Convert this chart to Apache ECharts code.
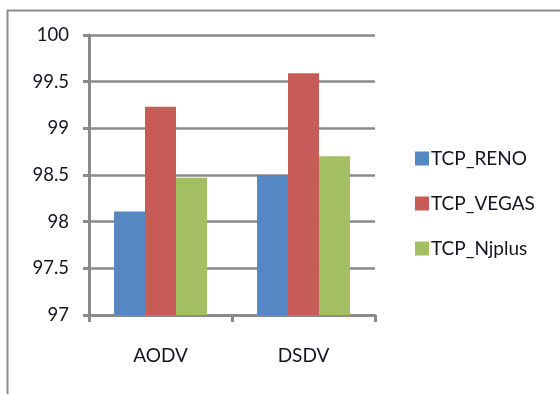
<!DOCTYPE html>
<html>
<head>
<meta charset="utf-8">
<script src="https://cdn.jsdelivr.net/npm/echarts@6/dist/echarts.min.js"></script>
<style>
  html, body { margin: 0; padding: 0; background: #fff; }
  #chart { width: 560px; height: 394px; }
</style>
</head>
<body>
<div id="chart"></div>
<script>
// Routing protocols on the x axis
const categories = ['AODV', 'DSDV'];
// Series names (TCP variants)
const seriesNames = ['TCP_RENO', 'TCP_VEGAS', 'TCP_Njplus'];
// Values per TCP variant, one per protocol
const renoValues = [98.11, 98.5];
const vegasValues = [99.23, 99.59];
const njplusValues = [98.47, 98.7];
// Y axis range and step
const yMin = 97;
const yMax = 100;
const yStep = 0.5;

const colors = ['#5588C3', '#C75B58', '#A3BF61'];
const font = 'Lato, "Open Sans", sans-serif';
const axisGray = '#8a8a8a';
const textColor = '#151522';

const chart = echarts.init(document.getElementById('chart'));
const seriesData = [renoValues, vegasValues, njplusValues];

chart.setOption({
  animation: false,
  color: colors,
  graphic: [{
    type: 'rect',
    left: 5, top: 8,
    shape: { x: 0, y: 0, width: 600, height: 420 },
    style: { fill: 'none', stroke: '#8c8c8c', lineWidth: 2 },
    z: -1
  }],
  grid: { left: 89, top: 35, right: 185, bottom: 79 },
  legend: {
    orient: 'vertical',
    left: 410, top: 144,
    itemWidth: 14, itemHeight: 14, itemGap: 26,
    icon: 'rect',
    textStyle: { fontFamily: font, fontSize: 19, color: textColor, padding: [0, 0, 0, -3] },
    data: seriesNames
  },
  xAxis: {
    type: 'category',
    data: categories,
    axisLine: { lineStyle: { color: axisGray, width: 3 } },
    axisTick: { show: true, length: 7, lineStyle: { color: axisGray, width: 3 } },
    axisLabel: { fontFamily: font, fontSize: 19, color: textColor, margin: 31 }
  },
  yAxis: {
    type: 'value',
    min: yMin, max: yMax, interval: yStep,
    axisLine: { show: true, lineStyle: { color: axisGray, width: 3 } },
    axisTick: { show: true, length: 6, lineStyle: { color: axisGray, width: 3 } },
    axisLabel: { fontFamily: font, fontSize: 18.5, color: textColor, margin: 20 },
    splitLine: { lineStyle: { color: axisGray, width: 2.5 } }
  },
  series: seriesNames.map((name, i) => ({
    name: name,
    type: 'bar',
    data: seriesData[i],
    barGap: '0%',
    barCategoryGap: '35%'
  }))
});
</script>
</body>
</html>
